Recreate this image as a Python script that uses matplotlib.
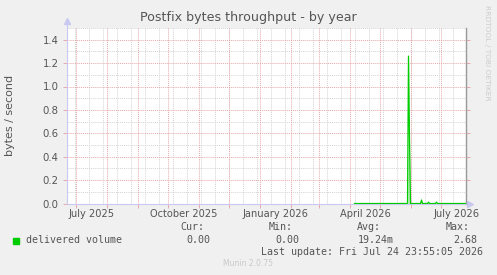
import numpy as np
import matplotlib.pyplot as plt

# x axis runs over 399 days, day 0 = start of graph
start = np.datetime64('2025-06-22T12:00')
span_days = 399

# break points of the "delivered volume" line (bytes/s)
vol_dates = ['2026-04-06', '2026-05-29', '2026-05-30', '2026-05-31', '2026-06-01',
             '2026-06-11', '2026-06-12', '2026-06-13', '2026-06-18', '2026-06-19',
             '2026-06-20', '2026-06-26', '2026-06-27', '2026-06-28', '2026-07-26']
vol_values = [0, 0, 1.26, 0.55, 0,
              0, 0.03, 0, 0, 0.012,
              0, 0, 0.012, 0, 0]

month_starts = ['2025-07-01', '2025-08-01', '2025-09-01', '2025-10-01', '2025-11-01',
                '2025-12-01', '2026-01-01', '2026-02-01', '2026-03-01', '2026-04-01',
                '2026-05-01', '2026-06-01', '2026-07-01']
x_labels = ['July 2025', 'October 2025', 'January 2026', 'April 2026', 'July 2026']
x_label_dates = ['2025-07-17', '2025-10-17', '2026-01-17', '2026-04-17', '2026-07-17']
y_major = [0.0, 0.2, 0.4, 0.6, 0.8, 1.0, 1.2, 1.4]
y_minor = [0.1, 0.3, 0.5, 0.7, 0.9, 1.1, 1.3, 1.5]

legend_name = 'delivered volume'
stats_head = ['Cur:', 'Min:', 'Avg:', 'Max:']
stats_vals = ['0.00', '0.00', '19.24m', '2.68']


def to_day(d):
    return (np.datetime64(d) - start) / np.timedelta64(1, 'D')


W, H = 497, 275
bg = '#f0f0f0'
txt = '#555555'
green = '#00cc00'
red_grid = '#e8a8a8'
gray_grid = '#d4d4d4'
axis_col = '#c8c8f0'

fig = plt.figure(figsize=(W / 100, H / 100), dpi=100, facecolor=bg)
x0, x1, y0, y1 = 67, 466, 28, 203.5
ax = fig.add_axes([x0 / W, 1 - y1 / H, (x1 - x0) / W, (y1 - y0) / H])
ax.set_facecolor('white')
ax.set_xlim(0, span_days)
ax.set_ylim(0, 1.5)

dot = (0, (1, 1))
# minor grid: every two weeks and at odd tenths
for d in np.arange(to_day('2025-06-30'), span_days, 14):
    ax.axvline(d, color=gray_grid, lw=0.7, ls=dot, zorder=1)
for v in y_minor:
    ax.axhline(v, color=gray_grid, lw=0.7, ls=dot, zorder=1)
# major grid: month starts and every 0.2
ms = [to_day(m) for m in month_starts]
for d in ms:
    ax.axvline(d, color=red_grid, lw=0.7, ls=dot, zorder=2)
for v in y_major[1:]:
    ax.axhline(v, color=red_grid, lw=0.7, ls=dot, zorder=2)

xd = [to_day(d) for d in vol_dates]
ax.fill_between(xd, vol_values, color='#9be89b', lw=0, alpha=0.6, zorder=3)
ax.plot(xd, vol_values, color=green, lw=0.9, zorder=4)

# ticks
ax.set_yticks(y_major)
ax.set_yticklabels(['%.1f' % v for v in y_major])
ax.set_xticks(ms)
ax.set_xticklabels([])
ax.set_xticks([to_day(d) for d in x_label_dates], minor=True)
ax.set_xticklabels(x_labels, minor=True)
ax.tick_params(axis='x', which='major', colors=red_grid, length=3, width=0.7)
ax.tick_params(axis='x', which='minor', length=0, pad=4, labelsize=7.1, labelcolor=txt)
ax.tick_params(axis='y', which='major', colors=red_grid, length=3, width=0.7,
               labelsize=7.3, labelcolor=txt, right=True, pad=3)

ax.spines['top'].set_visible(False)
ax.spines['right'].set_color('#999999')
ax.spines['right'].set_linewidth(1.0)
ax.spines['left'].set_color(axis_col)
ax.spines['bottom'].set_color(axis_col)
ax.spines['left'].set_linewidth(0.8)
ax.spines['bottom'].set_linewidth(0.8)

# axis arrows
ax.plot([0, 0], [1.5, 1.56], color=axis_col, lw=0.8, clip_on=False)
ax.plot(0, 1.56, marker='^', color=axis_col, ms=4, clip_on=False)
ax.plot([span_days, span_days + 3], [0, 0], color=axis_col, lw=0.8, clip_on=False)
ax.plot(span_days + 4, 0, marker='>', color=axis_col, ms=4, clip_on=False)

fig.text(248 / W, 1 - 18 / H, 'Postfix bytes throughput - by year', ha='center', va='center',
         fontsize=9.1, color=txt)
fig.text(10 / W, 1 - 115 / H, 'bytes / second', rotation=90, ha='center', va='center',
         fontsize=8.0, color=txt)
fig.text(487 / W, 1 - 53 / H, 'RRDTOOL / TOBI OETIKER', rotation=270, ha='center', va='center',
         fontsize=5.4, color='#cccccc')

mono = 'DejaVu Sans Mono'
fs = 7.2
fig.patches.append(plt.Rectangle((13 / W, 1 - 243.5 / H), 6 / W, 6 / H, transform=fig.transFigure,
                                 color=green))
fig.text(26 / W, 1 - 240 / H, legend_name, family=mono, fontsize=fs, color=txt, va='center')
head_x = [204, 293, 381, 470]
val_x = [210, 299, 394, 477]
for hx, h in zip(head_x, stats_head):
    fig.text(hx / W, 1 - 227 / H, h, family=mono, fontsize=fs, color=txt, va='center', ha='right')
for vx, v in zip(val_x, stats_vals):
    fig.text(vx / W, 1 - 240 / H, v, family=mono, fontsize=fs, color=txt, va='center', ha='right')
fig.text(483 / W, 1 - 252 / H, 'Last update: Fri Jul 24 23:55:05 2026', family=mono, fontsize=fs,
         color=txt, va='center', ha='right')
fig.text(248 / W, 1 - 264 / H, 'Munin 2.0.75', fontsize=5.5, color='#c8c8c8', ha='center',
         va='center')

fig.savefig('out.png', dpi=100, facecolor=bg)
